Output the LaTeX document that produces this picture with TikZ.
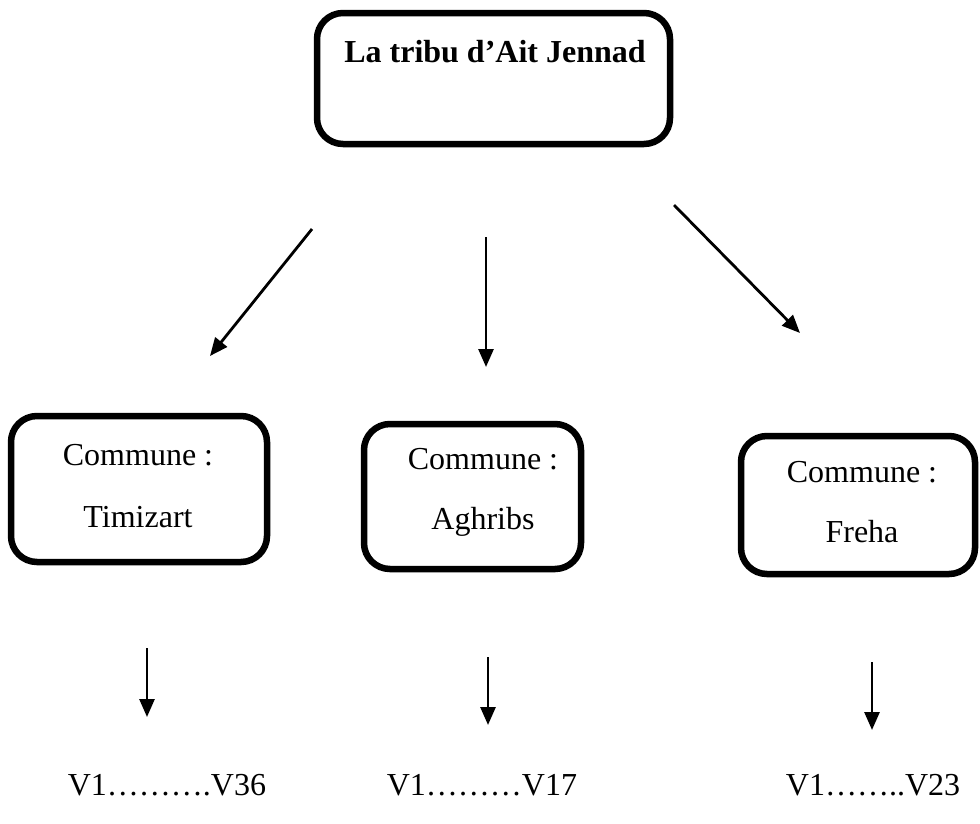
\documentclass[tikz,border=0pt]{standalone}
\usepackage{fontspec}
\setmainfont{Liberation Serif}
\usetikzlibrary{arrows.meta}
\begin{document}
\begin{tikzpicture}[x=1pt,y=-1pt,
  box/.style={draw=black, line width=6.5pt, rounded corners=26pt, fill=white, inner sep=0pt},
  txt/.style={font=\fontsize{32}{38}\selectfont, inner sep=0pt, align=center},
  arr/.style={line width=2.8pt, -{Triangle[length=18pt,width=15pt]}}]
\useasboundingbox (0,0) rectangle (980,823);
% boxes
\node[box, minimum width=353pt, minimum height=131pt] (top) at (493.5,78.5) {};
\node[txt, font=\fontsize{32}{38}\selectfont\bfseries] (toptxt) at (495,52) {La tribu d’Ait Jennad};
\node[box, minimum width=256pt, minimum height=146pt] (b1) at (139,489) {};
\node[box, minimum width=217pt, minimum height=145pt] (b2) at (472.5,496.5) {};
\node[box, minimum width=234pt, minimum height=138pt] (b3) at (858,505) {};
\node[txt, font=\fontsize{32}{62}\selectfont] (t1) at (138,486) {Commune :\\Timizart};
\node[txt, font=\fontsize{32}{60}\selectfont] (t2) at (483,492) {Commune :\\Aghribs};
\node[txt, font=\fontsize{32}{60}\selectfont] (t3) at (862,502) {Commune :\\Freha};
% bottom texts
\node[txt] (v1) at (167,785) {V1……….V36};
\node[txt] (v2) at (482,785) {V1………V17};
\node[txt] (v3) at (873,785) {V1……..V23};
% arrow coordinates
\coordinate (a1s) at (312,229);
\coordinate (a1e) at (210,356);
\coordinate (a2s) at (486,237);
\coordinate (a2e) at (486,367);
\coordinate (a3s) at (674,205);
\coordinate (a3e) at (800,333);
\coordinate (c1s) at (147,648);
\coordinate (c1e) at (147,717);
\coordinate (c2s) at (488,657);
\coordinate (c2e) at (488,725);
\coordinate (c3s) at (872,662);
\coordinate (c3e) at (872,730);
\draw[arr] (a1s) -- (a1e);
\draw[arr] (a2s) -- (a2e);
\draw[arr] (a3s) -- (a3e);
\draw[arr] (c1s) -- (c1e);
\draw[arr] (c2s) -- (c2e);
\draw[arr] (c3s) -- (c3e);
\end{tikzpicture}
\end{document}
